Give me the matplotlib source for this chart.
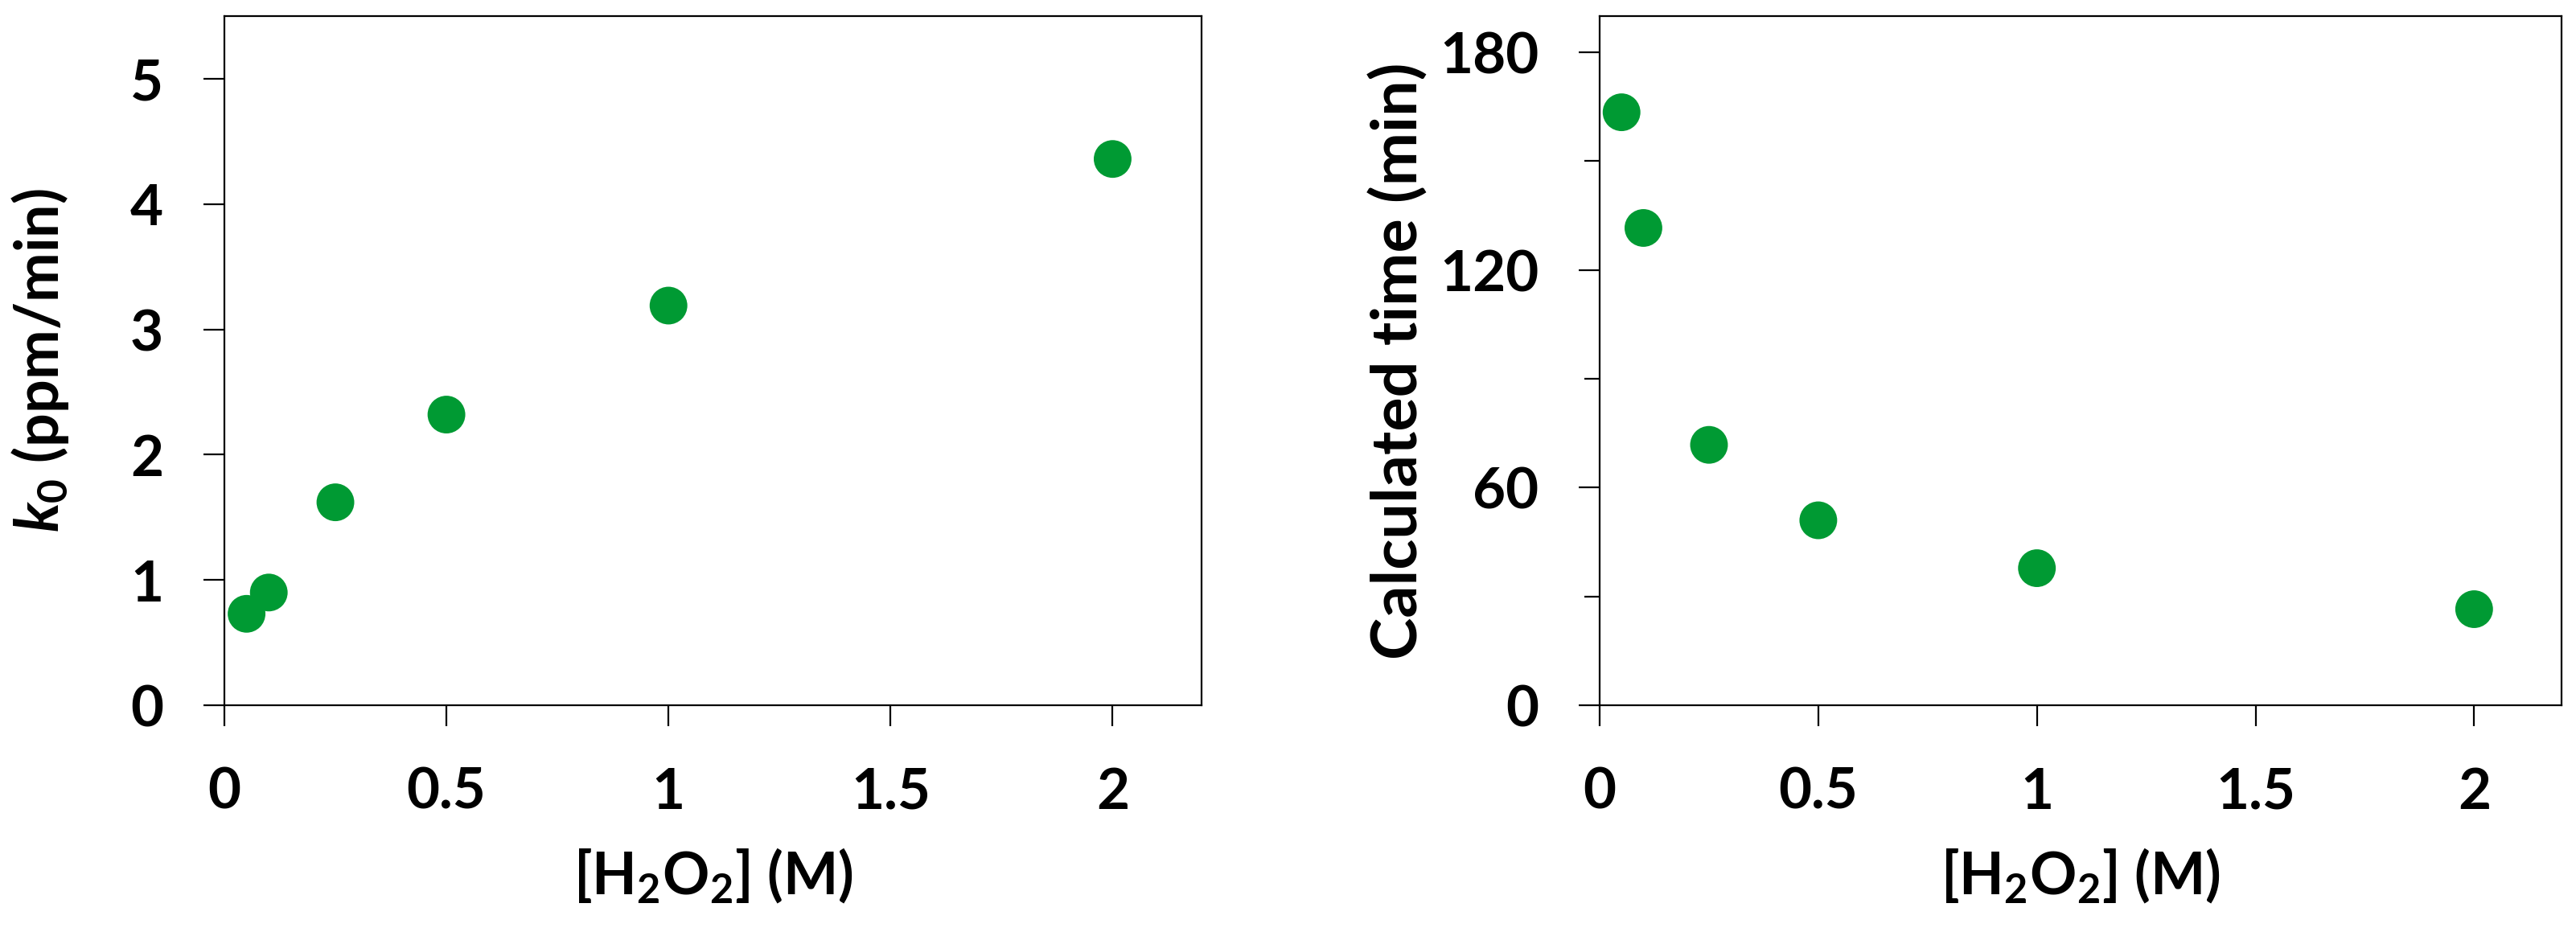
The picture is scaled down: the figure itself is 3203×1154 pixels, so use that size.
import matplotlib
matplotlib.use('Agg')
import matplotlib.pyplot as plt

h2o2 = [0.05, 0.1, 0.25, 0.5, 1, 2]
k0 = [0.73, 0.90, 1.62, 2.32, 3.19, 4.36]
calc_time = [163.5, 131.6, 71.8, 51.0, 37.8, 26.5]

x_ticks = [0, 0.5, 1, 1.5, 2]
x_tick_labels = ['0', '0.5', '1', '1.5', '2']
k0_ticks = [0, 1, 2, 3, 4, 5]
time_ticks = [0, 60, 120, 180]
time_minor = [30, 90, 150]

plt.rcParams['font.family'] = ['Lato', 'DejaVu Sans']
plt.rcParams['font.weight'] = 'bold'
plt.rcParams['mathtext.fontset'] = 'custom'
plt.rcParams['mathtext.it'] = 'Lato:italic:bold'
plt.rcParams['mathtext.rm'] = 'Lato:bold'

green = '#009A33'
fs_tick = 51

fig = plt.figure(figsize=(32.03, 11.54), dpi=100)
ax1 = fig.add_axes([0.0871, 0.2400, 0.3793, 0.7426])
ax2 = fig.add_axes([0.6210, 0.2400, 0.3734, 0.7426])


def style(ax):
    for sp in ax.spines.values():
        sp.set_linewidth(1.6)
    ax.tick_params(which='major', direction='out', length=18.5, width=1.6,
                   pad=36, labelsize=fs_tick, top=False, right=False)
    ax.tick_params(which='minor', direction='out', length=14, width=1.6,
                   top=False, right=False)
    ax.set_xlim(0, 2.2)
    ax.set_xticks(x_ticks)
    ax.set_xticklabels(x_tick_labels)
    ax.set_xlabel('[H$_\\mathregular{2}$O$_\\mathregular{2}$] (M)', fontsize=52, fontweight='bold')
    ax.xaxis.set_label_coords(0.5, -0.205)


ax1.scatter(h2o2, k0, s=1140, color=green, edgecolors='none', zorder=3)
style(ax1)
ax1.set_ylim(0, 5.5)
ax1.set_yticks(k0_ticks)
ax1.set_ylabel('$k_{\\mathit{0}}$ (ppm/min)', fontsize=53, fontweight='bold')
ax1.yaxis.set_label_coords(-0.157, 0.5)

ax2.scatter(h2o2, calc_time, s=1140, color=green, edgecolors='none', zorder=3)
style(ax2)
ax2.set_ylim(0, 190)
ax2.set_yticks(time_ticks)
ax2.set_yticks(time_minor, minor=True)
ax2.set_ylabel('Calculated time (min)', fontsize=57, fontweight='bold')
ax2.yaxis.set_label_coords(-0.178, 0.5)

fig.savefig('out.png', dpi=100)
